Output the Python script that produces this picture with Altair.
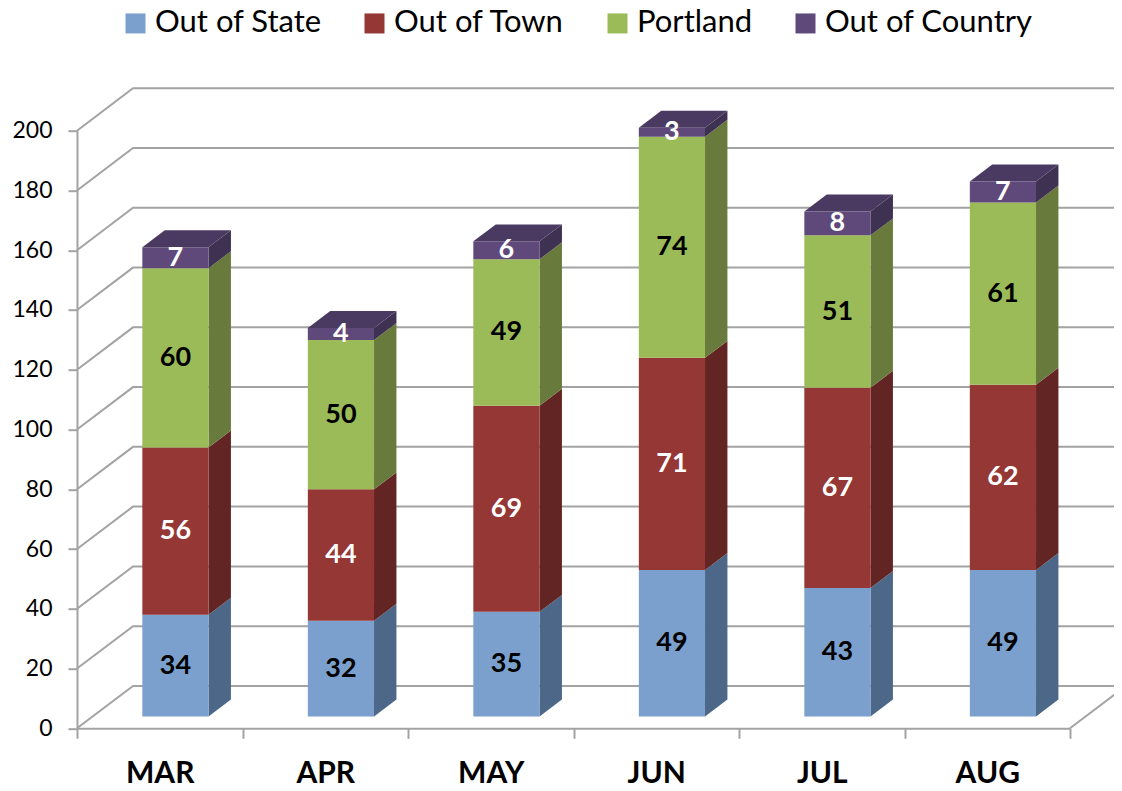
import altair as alt
import pandas as pd

# ---------------- data ----------------
months = ["MAR", "APR", "MAY", "JUN", "JUL", "AUG"]
series = ["Out of State", "Out of Town", "Portland", "Out of Country"]
out_of_state = [34, 32, 35, 49, 43, 49]
out_of_town = [56, 44, 69, 71, 67, 62]
portland = [60, 50, 49, 74, 51, 61]
out_of_country = [7, 4, 6, 3, 8, 7]
y_ticks = list(range(0, 201, 20))

# ---------------- style ----------------
front_colors = ["#7ba0cd", "#953735", "#9bbb59", "#5f497a"]
side_colors = ["#4c6787", "#632523", "#687b3c", "#3f3151"]
top_color = "#4a3a62"
label_colors = ["black", "white", "black", "white"]
grid_color = "#a3a3a3"
FONT = "Lato"

W, H = 993, 597.6
X_MAX, Y_MAX = len(months), 200
PX_X = W / X_MAX
PX_Y = H / Y_MAX
WALL_DX = 56 / PX_X      # depth of the 3D box, in x units
WALL_DY = 42.4 / PX_Y    # depth of the 3D box, in y units
BAR_FRONT, BAR_DEPTH, BAR_W = 0.28, 0.40, 0.40
ox, oy = BAR_FRONT * WALL_DX, BAR_FRONT * WALL_DY
bdx, bdy = BAR_DEPTH * WALL_DX, BAR_DEPTH * WALL_DY

values = [out_of_state, out_of_town, portland, out_of_country]

front_rows, side_rows, top_rows, text_rows = [], [], [], []
for i, m in enumerate(months):
    c = i + 0.5
    xl, xr = c - BAR_W / 2 + ox, c + BAR_W / 2 + ox
    base = 0
    for s, name in enumerate(series):
        v = values[s][i]
        y0, y1 = base + oy, base + v + oy
        seg = f"{m}-{s}"
        front_rows.append(dict(series=name, x=xl, x2=xr, y=y0, y2=y1))
        text_rows.append(dict(x=(xl + xr) / 2, y=(y0 + y1) / 2, label=str(v),
                              fill=label_colors[s]))
        side_rows += [
            dict(seg=seg, fill=side_colors[s], x=xr, y=y0, y2=y1),
            dict(seg=seg, fill=side_colors[s], x=xr + bdx, y=y0 + bdy, y2=y1 + bdy),
        ]
        base += v
    yt = base + oy
    top_rows += [
        dict(seg=m, x=xl, y=yt, y2=yt),
        dict(seg=m, x=xl + bdx, y=yt, y2=yt + bdy),
        dict(seg=m, x=xr, y=yt, y2=yt + bdy),
        dict(seg=m, x=xr + bdx, y=yt + bdy, y2=yt + bdy),
    ]

grid_rows = []
x_end = X_MAX + WALL_DX + 0.2
for v in y_ticks:
    grid_rows += [
        dict(line=f"g{v}", o=0, x=0, y=v),
        dict(line=f"g{v}", o=1, x=WALL_DX, y=v + WALL_DY),
        dict(line=f"g{v}", o=2, x=x_end, y=v + WALL_DY),
    ]
grid_rows += [
    dict(line="floor", o=0, x=X_MAX, y=0),
    dict(line="floor", o=1, x=X_MAX + WALL_DX, y=WALL_DY),
]

front_df = pd.DataFrame(front_rows)
side_df = pd.DataFrame(side_rows)
top_df = pd.DataFrame(top_rows)
text_df = pd.DataFrame(text_rows)
grid_df = pd.DataFrame(grid_rows)

# ---------------- scales / axes ----------------
x_vals = [k / 2 for k in range(0, 2 * X_MAX + 1)]
month_arr = "[" + ",".join(f"'{m}'" for m in months) + "]"
x_axis = alt.Axis(
    values=x_vals,
    labelExpr=f"datum.value % 1 == 0.5 ? {month_arr}[floor(datum.value)] : ''",
    tickOpacity={"condition": {"test": "datum.value % 1 != 0", "value": 0}, "value": 1},
    title=None, grid=False, domainColor=grid_color, domainWidth=2,
    tickColor=grid_color, tickWidth=2, tickSize=10,
    labelFont=FONT, labelFontSize=30, labelFontWeight="bold", labelColor="black",
    labelPadding=20, labelFlush=False, labelOverlap=False, labelBound=False,
)
y_axis = alt.Axis(
    values=y_ticks, title=None, grid=False, domainColor=grid_color, domainWidth=2,
    tickColor=grid_color, tickWidth=2, tickSize=9,
    labelFont=FONT, labelFontSize=23, labelColor="black", labelPadding=16,
)
xs = alt.Scale(domain=[0, X_MAX], nice=False, zero=False)
ys = alt.Scale(domain=[0, Y_MAX], nice=False, zero=False)
X = alt.X("x:Q", scale=xs, axis=x_axis)
Y = alt.Y("y:Q", scale=ys, axis=y_axis)

grid = alt.Chart(grid_df).mark_line(color=grid_color, strokeWidth=2).encode(
    x=X, y=Y, detail="line:N", order="o:Q"
)
side = alt.Chart(side_df).mark_area(strokeWidth=0).encode(
    x=X, y=Y, y2="y2:Q", detail="seg:N", fill=alt.Fill("fill:N", scale=None)
)
top = alt.Chart(top_df).mark_area(color=top_color, strokeWidth=0).encode(
    x=X, y=Y, y2="y2:Q", detail="seg:N"
)
front = alt.Chart(front_df).mark_rect().encode(
    x=X, x2="x2:Q", y=Y, y2="y2:Q",
    color=alt.Color(
        "series:N",
        scale=alt.Scale(domain=series, range=front_colors),
        legend=alt.Legend(
            title=None, orient="none", direction="horizontal", columns=4,
            legendX=43, legendY=-123, padding=0,
            symbolType="square", symbolSize=400, symbolStrokeWidth=0,
            labelFont=FONT, labelFontSize=31, labelColor="black",
            labelOffset=4, columnPadding=37, labelLimit=400,
        ),
    ),
)
text = alt.Chart(text_df).mark_text(
    font=FONT, fontSize=27, fontWeight="bold", baseline="middle", align="center"
).encode(x=X, y=Y, text="label:N", fill=alt.Fill("fill:N", scale=None))

chart = (
    alt.layer(grid, side, top, front, text)
    .properties(
        width=W, height=H,
        autosize=alt.AutoSizeParams(type="none"),
        padding={"left": 69, "top": 122.7, "right": 44, "bottom": 54.5},
    )
    .configure_view(stroke=None)
)

chart.save("out.html", embed_options={"renderer": "svg", "actions": False})
